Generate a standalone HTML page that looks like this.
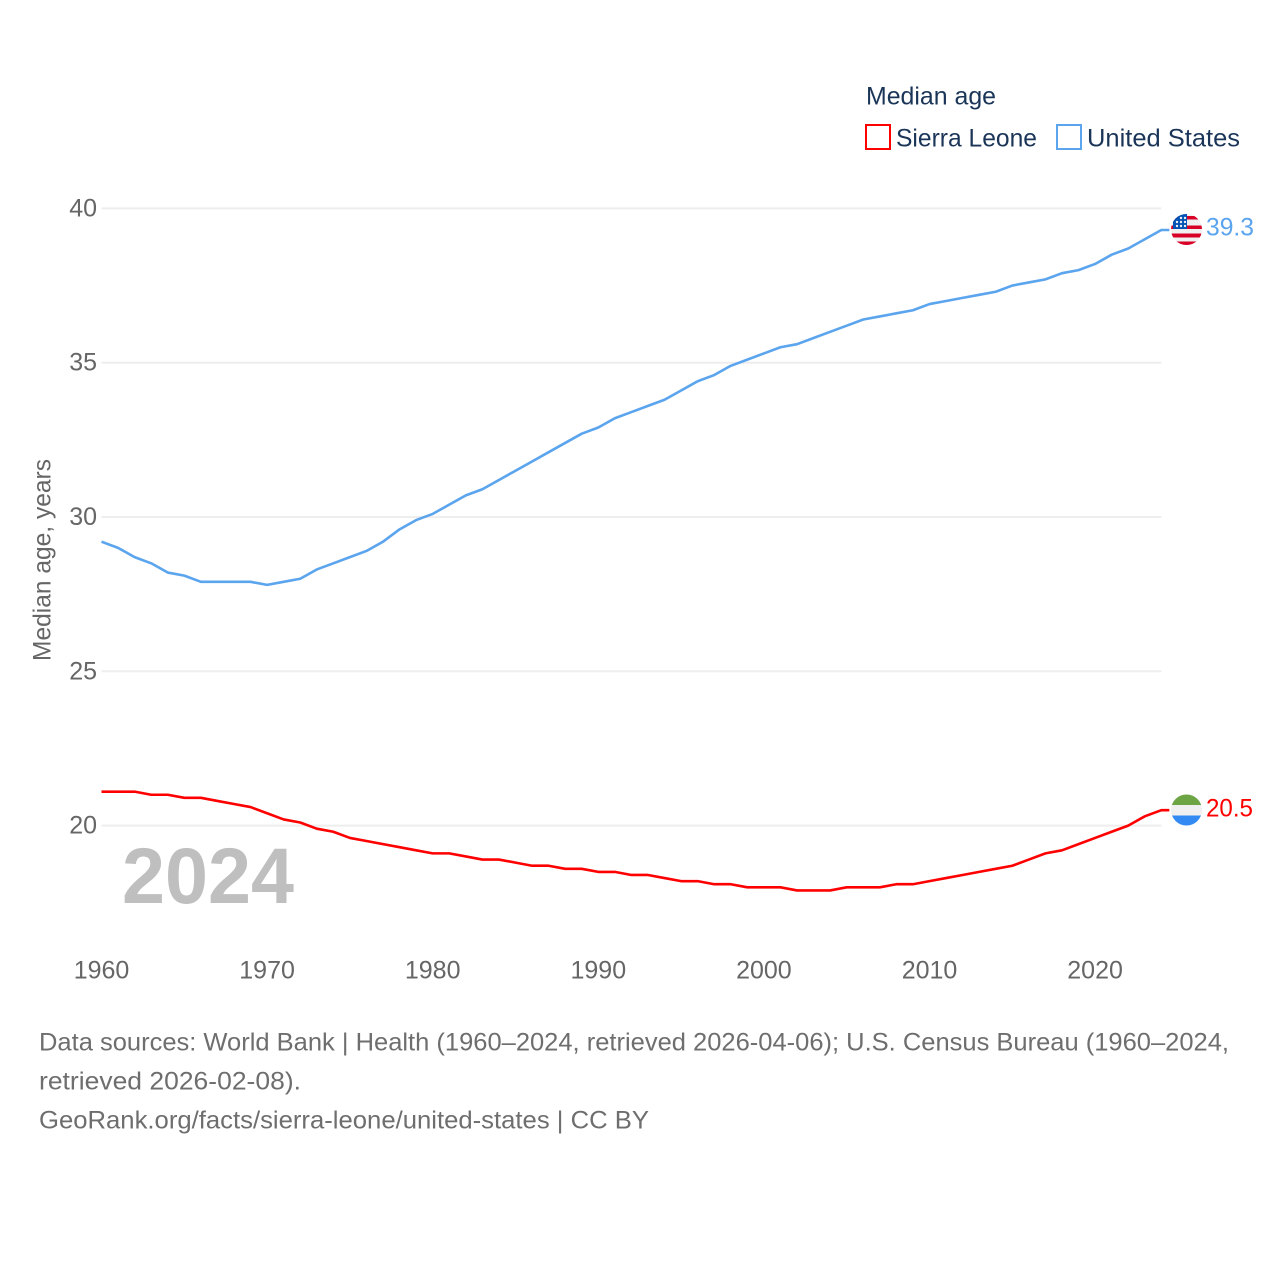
<!DOCTYPE html>
<html lang="en">
<head>
<meta charset="utf-8">
<title>Median age: Sierra Leone and United States</title>
<style>
html,body{margin:0;padding:0;background:#fff;}
svg{display:block;}
text{font-family:"Liberation Sans",sans-serif;}
</style>
</head>
<body>
<svg id="chart" xmlns="http://www.w3.org/2000/svg" width="1280" height="1280" viewBox="0 0 1280 1280">
  <defs>
    <clipPath id="us-clip"><circle cx="1186.5" cy="229.5" r="15.5"/></clipPath>
    <clipPath id="sl-clip"><circle cx="1186.5" cy="810" r="15.5"/></clipPath>
  </defs>
  <g id="grid"></g>
  <g id="yaxis"></g>
  <g id="xaxis"></g>
  <text transform="translate(50.5,661) rotate(-90)" font-size="25" fill="#666666" textLength="202" lengthAdjust="spacingAndGlyphs">Median age, years</text>
  <text x="122" y="903" font-size="79" font-weight="bold" fill="#bfbfbf" textLength="172" lengthAdjust="spacingAndGlyphs">2024</text>
  <g id="series"></g>

  <g clip-path="url(#us-clip)">
    <rect x="1170" y="213" width="33" height="33" fill="#f0f0f0"/>
    <rect x="1170" y="216" width="33" height="3.5" fill="#d80027"/>
    <rect x="1170" y="225.5" width="33" height="3.5" fill="#d80027"/>
    <rect x="1170" y="233.5" width="33" height="4" fill="#d80027"/>
    <rect x="1170" y="241.5" width="33" height="4" fill="#d80027"/>
    <rect x="1173" y="213" width="14" height="16" fill="#0052b4"/>
    <circle cx="1181" cy="218" r="1.2" fill="#f0f0f0"/>
    <circle cx="1185" cy="218" r="1.2" fill="#f0f0f0"/>
    <circle cx="1177" cy="222" r="1.2" fill="#f0f0f0"/>
    <circle cx="1181" cy="222" r="1.2" fill="#f0f0f0"/>
    <circle cx="1185" cy="222" r="1.2" fill="#f0f0f0"/>
    <circle cx="1177" cy="226" r="1.2" fill="#f0f0f0"/>
    <circle cx="1181" cy="226" r="1.2" fill="#f0f0f0"/>
    <circle cx="1185" cy="226" r="1.2" fill="#f0f0f0"/>
  </g>
  <g clip-path="url(#sl-clip)">
    <rect x="1170" y="794" width="33" height="11" fill="#6da544"/>
    <rect x="1170" y="805" width="33" height="10.5" fill="#f0f0f0"/>
    <rect x="1170" y="815.5" width="33" height="11" fill="#338af3"/>
  </g>
  <text x="1206" y="235.5" font-size="25" fill="#5ba4ee" textLength="48" lengthAdjust="spacingAndGlyphs">39.3</text>
  <text x="1206" y="816.5" font-size="25" fill="#ff0000" textLength="47" lengthAdjust="spacingAndGlyphs">20.5</text>

  <g>
    <text x="866" y="104.5" font-size="25" fill="#1a3557" textLength="130" lengthAdjust="spacingAndGlyphs">Median age</text>
    <rect x="866" y="125" width="24" height="24" fill="#fff" stroke="#ff0000" stroke-width="2"/>
    <text x="896" y="146.5" font-size="25" fill="#1a3557" textLength="141" lengthAdjust="spacingAndGlyphs">Sierra Leone</text>
    <rect x="1057" y="125" width="24" height="24" fill="#fff" stroke="#5ba4ee" stroke-width="2"/>
    <text x="1087" y="146.5" font-size="25" fill="#1a3557" textLength="153" lengthAdjust="spacingAndGlyphs">United States</text>
  </g>

  <g font-size="25" fill="#6e6e6e">
    <text x="39" y="1050.5" textLength="1190" lengthAdjust="spacingAndGlyphs">Data sources: World Bank | Health (1960–2024, retrieved 2026-04-06); U.S. Census Bureau (1960–2024,</text>
    <text x="39" y="1089.5" textLength="262" lengthAdjust="spacingAndGlyphs">retrieved 2026-02-08).</text>
    <text x="39" y="1128.5" textLength="610" lengthAdjust="spacingAndGlyphs">GeoRank.org/facts/sierra-leone/united-states | CC BY</text>
  </g>
</svg>
<script>
const startYear = 1960;
const yTicks = [20, 25, 30, 35, 40];
const xTicks = [1960, 1970, 1980, 1990, 2000, 2010, 2020];
const unitedStates = [29.2,29.0,28.7,28.5,28.2,28.1,27.9,27.9,27.9,27.9,27.8,27.9,28.0,28.3,28.5,28.7,28.9,29.2,29.6,29.9,30.1,30.4,30.7,30.9,31.2,31.5,31.8,32.1,32.4,32.7,32.9,33.2,33.4,33.6,33.8,34.1,34.4,34.6,34.9,35.1,35.3,35.5,35.6,35.8,36.0,36.2,36.4,36.5,36.6,36.7,36.9,37.0,37.1,37.2,37.3,37.5,37.6,37.7,37.9,38.0,38.2,38.5,38.7,39.0,39.3];
const sierraLeone = [21.1,21.1,21.1,21.0,21.0,20.9,20.9,20.8,20.7,20.6,20.4,20.2,20.1,19.9,19.8,19.6,19.5,19.4,19.3,19.2,19.1,19.1,19.0,18.9,18.9,18.8,18.7,18.7,18.6,18.6,18.5,18.5,18.4,18.4,18.3,18.2,18.2,18.1,18.1,18.0,18.0,18.0,17.9,17.9,17.9,18.0,18.0,18.0,18.1,18.1,18.2,18.3,18.4,18.5,18.6,18.7,18.9,19.1,19.2,19.4,19.6,19.8,20.0,20.3,20.5];

const NS = 'http://www.w3.org/2000/svg';
const xScale = function (year) { return 101.5 + (year - 1960) * 16.56; };
const yScale = function (v) { return 825.6 - (v - 20) * 30.86; };

const grid = document.getElementById('grid');
const yaxis = document.getElementById('yaxis');
const xaxis = document.getElementById('xaxis');
const series = document.getElementById('series');

yTicks.forEach(function (t) {
  const line = document.createElementNS(NS, 'line');
  
  
  line.setAttribute('x1', xScale(1960));
  line.setAttribute('x2', xScale(2024));
  line.setAttribute('y1', yScale(t));
  line.setAttribute('y2', yScale(t));
  line.setAttribute('stroke', '#eeeeee');
  line.setAttribute('stroke-width', '2');
  grid.appendChild(line);

  const label = document.createElementNS(NS, 'text');
  
  
  label.setAttribute('x', '97');
  label.setAttribute('y', yScale(t) + 8);
  label.setAttribute('text-anchor', 'end');
  label.setAttribute('font-size', '25');
  label.setAttribute('fill', '#666666');
  label.textContent = t;
  yaxis.appendChild(label);
});

xTicks.forEach(function (t) {
  const label = document.createElementNS(NS, 'text');
  
  
  label.setAttribute('x', xScale(t));
  label.setAttribute('y', '978.5');
  label.setAttribute('text-anchor', 'middle');
  label.setAttribute('font-size', '25');
  label.setAttribute('fill', '#666666');
  label.textContent = t;
  xaxis.appendChild(label);
});

function drawSeries(values, color, name) {
  let d = '';
  values.forEach(function (v, i) {
    d += (i === 0 ? 'M' : 'L') + xScale(startYear + i).toFixed(2) + ' ' + yScale(v).toFixed(2);
  });
  d += 'H' + (xScale(startYear + values.length - 1) + 8).toFixed(2);
  const path = document.createElementNS(NS, 'path');
  
  
  path.setAttribute('d', d);
  path.setAttribute('fill', 'none');
  path.setAttribute('stroke', color);
  path.setAttribute('stroke-width', '2.6');
  path.setAttribute('stroke-linejoin', 'round');
  series.appendChild(path);
}
drawSeries(sierraLeone, '#ff0000', 'sierra-leone-line');
drawSeries(unitedStates, '#5ba4ee', 'united-states-line');
</script>
</body>
</html>
